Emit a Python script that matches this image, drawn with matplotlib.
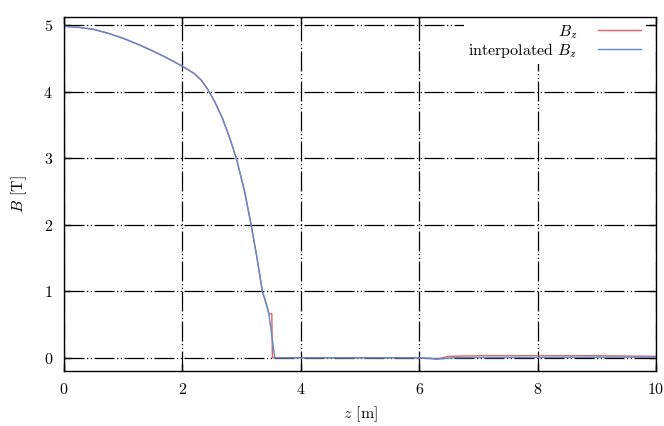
import matplotlib
matplotlib.use("Agg")
import matplotlib.pyplot as plt
from matplotlib.ticker import MultipleLocator

plt.rcParams["font.family"] = ["cmr10", "DejaVu Serif"]
plt.rcParams["mathtext.fontset"] = "cm"
plt.rcParams["axes.formatter.use_mathtext"] = True

# field on axis
z_bz = [0.0, 0.25, 0.5, 0.75, 1.0, 1.25, 1.5, 1.75, 2.0, 2.2, 2.32, 2.43,
        2.55, 2.68, 2.8, 2.91, 3.05, 3.16, 3.26, 3.35, 3.42, 3.46, 3.51, 3.52,
        3.6, 6.0, 6.2, 6.3, 6.5, 7.0, 8.0, 9.0, 10.0]
bz = [4.98, 4.965, 4.935, 4.875, 4.80, 4.71, 4.61, 4.50, 4.38, 4.27, 4.17,
      4.03, 3.84, 3.59, 3.30, 3.00, 2.50, 2.00, 1.50, 1.00, 0.80, 0.66, 0.66,
      0.0, 0.0, 0.0, -0.01, -0.02, 0.02, 0.03, 0.03, 0.03, 0.02]

z_interp = [0.0, 0.25, 0.5, 0.75, 1.0, 1.25, 1.5, 1.75, 2.0, 2.2, 2.32,
            2.43, 2.55, 2.68, 2.8, 2.91, 3.05, 3.16, 3.26, 3.35, 3.42, 3.46,
            3.56, 6.0, 6.3, 6.6, 10.0]
bz_interp = [4.98, 4.965, 4.935, 4.875, 4.80, 4.71, 4.61, 4.50, 4.38, 4.27,
             4.17, 4.03, 3.84, 3.59, 3.30, 3.00, 2.50, 2.00, 1.50, 1.00, 0.80,
             0.66, 0.0, 0.0, -0.02, 0.0, 0.01]

fig = plt.figure(figsize=(6.64, 4.26), dpi=100)
ax = fig.add_axes([0.0964, 0.129, 0.8916, 0.831])

ax.plot(z_bz, bz, color="#e8605c", lw=1.0, label=r"$B_z$", zorder=3)
ax.plot(z_interp, bz_interp, color="#5a8cd0", lw=1.0,
        label=r"interpolated $B_z$", zorder=4)

ax.set_xlim(0, 10)
ax.set_ylim(-0.2, 5.12)
ax.xaxis.set_major_locator(MultipleLocator(2))
ax.yaxis.set_major_locator(MultipleLocator(1))
ax.tick_params(direction="in", length=5, width=1, top=True, right=True,
               labelsize=11.5, pad=8, colors="black")
ax.grid(True, color="black", lw=0.9, linestyle=(0, (16, 2, 1, 2, 1, 2)),
        zorder=1)
for s in ax.spines.values():
    s.set_linewidth(1.0)
    s.set_zorder(6)

ax.set_xlabel(r"$z$ [m]", fontsize=11.5, labelpad=5)
ax.set_ylabel(r"$B$ [T]", fontsize=11.5, labelpad=10)

leg = ax.legend(loc="upper right", bbox_to_anchor=(0.983, 0.997),
                markerfirst=False, frameon=True, framealpha=1, fontsize=11.5,
                handlelength=2.7, borderaxespad=0.0, labelspacing=0.0,
                fancybox=False, handletextpad=1.3, borderpad=0.3)
leg.get_frame().set_linewidth(0)
leg.set_zorder(5)

fig.savefig("out.png", dpi=100)
